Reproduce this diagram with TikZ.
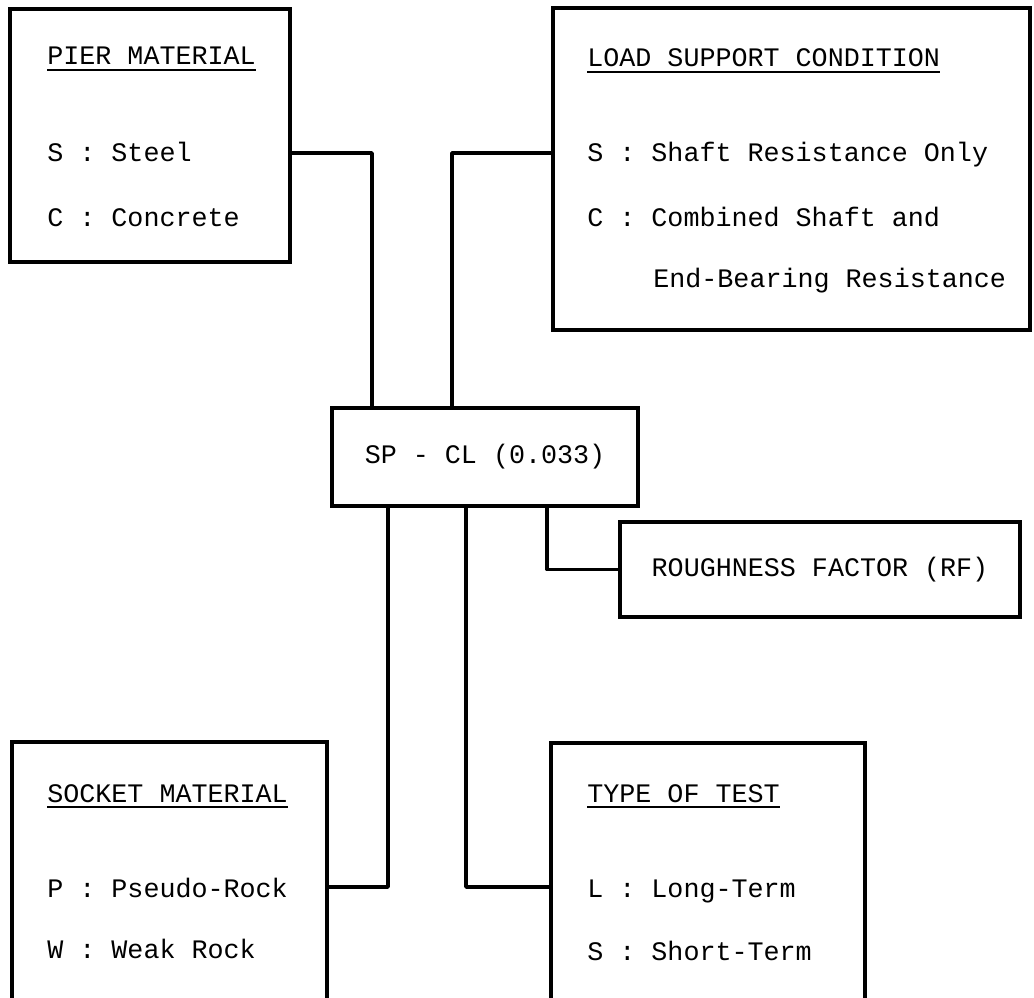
\documentclass[tikz,border=0pt]{standalone}
\usepackage{fontspec}
\setmonofont{Liberation Mono}
\usetikzlibrary{positioning}
\tikzset{
    font=\ttfamily\fontsize{15.2}{18}\selectfont,
    box/.style={draw, line width=2pt, inner sep=0pt, anchor=center},
    link/.style={line width=2pt, line join=round},
    entry/.style={anchor=base west, inner sep=0pt},
    uline/.style={line width=1pt}
}

\begin{document}
\begin{tikzpicture}
    % Page frame
    \useasboundingbox (0,0) rectangle (20.68,19.94);
    \clip (0,0) rectangle (20.68,19.94);

    % Boxes
    \node[box, minimum width=5.60cm, minimum height=5.06cm] (pier) at (3.00,17.23) {};
    \node[box, minimum width=9.54cm, minimum height=6.44cm] (load) at (15.83,16.56) {};
    \node[box, minimum width=6.12cm, minimum height=1.96cm] (code) at (9.70,10.80) {SP - CL (0.033)};
    \node[box, minimum width=8.00cm, minimum height=1.90cm] (rough) at (16.40,8.55) {ROUGHNESS FACTOR (RF)};
    \node[box, minimum width=6.30cm, minimum height=5.20cm] (socket) at (3.39,2.50) {};
    \node[box, minimum width=6.28cm, minimum height=5.18cm] (test) at (14.16,2.49) {};

    % Pier material
    \node[entry] (pierhead) at (0.94,18.64) {PIER MATERIAL};
    \node[entry] (pierS) at (0.94,16.70) {S : Steel};
    \node[entry] (pierC) at (0.94,15.40) {C : Concrete};

    % Load support condition
    \node[entry] (loadhead) at (11.74,18.60) {LOAD SUPPORT CONDITION};
    \node[entry] (loadS) at (11.74,16.70) {S : Shaft Resistance Only};
    \node[entry] (loadC) at (11.74,15.40) {C : Combined Shaft and};
    \node[entry] (loadE) at (13.06,14.18) {End-Bearing Resistance};

    % Socket material
    \node[entry] (sockethead) at (0.94,3.90) {SOCKET MATERIAL};
    \node[entry] (socketP) at (0.94,2.00) {P : Pseudo-Rock};
    \node[entry] (socketW) at (0.94,0.78) {W : Weak Rock};

    % Type of test
    \node[entry] (testhead) at (11.74,3.90) {TYPE OF TEST};
    \node[entry] (testL) at (11.74,2.00) {L : Long-Term};
    \node[entry] (testS) at (11.74,0.74) {S : Short-Term};

    % Heading underlines
    \foreach \h in {pierhead, loadhead, sockethead, testhead}
        \draw[uline] ([yshift=-0.1cm]\h.base west) -- ([yshift=-0.1cm]\h.base east);

    % Bends of the connectors
    \coordinate (pj) at (7.44,16.88);
    \coordinate (lj) at (9.04,16.88);
    \coordinate (sj) at (7.76,2.20);
    \coordinate (tj) at (9.32,2.20);
    \coordinate (rj) at (10.94,0);

    % Connectors
    \draw[link] (pier.east |- pj) -- (pj) -- (code.north -| pj);
    \draw[link] (load.west |- lj) -- (lj) -- (code.north -| lj);
    \draw[link] (code.south -| sj) -- (sj) -- (socket.east |- sj);
    \draw[link] (code.south -| tj) -- (tj) -- (test.west |- tj);
    \draw[link] (code.south -| rj) |- (rough.west);
\end{tikzpicture}
\end{document}
